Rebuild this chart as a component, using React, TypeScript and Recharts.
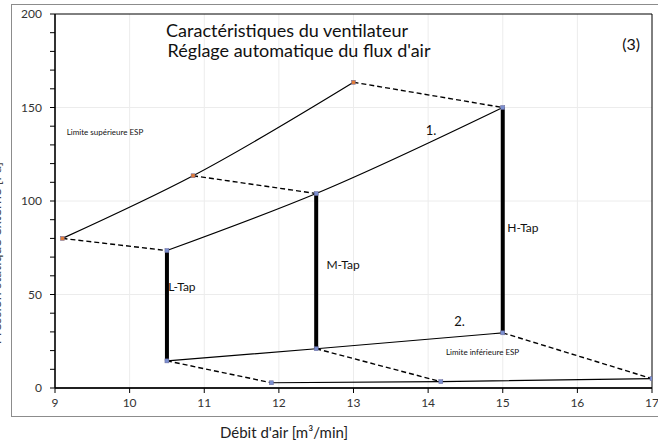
import React from 'react';
import {
  ComposedChart, Line, XAxis, YAxis, CartesianGrid, ReferenceArea, ReferenceDot,
} from 'recharts';

// ---- data ----
const xTicks = [9, 10, 11, 12, 13, 14, 15, 16, 17];
const yTicks = [0, 10, 20, 30, 40, 50, 60, 70, 80, 90, 100, 110, 120, 130, 140, 150, 160, 170, 180, 190, 200];

const upperLimit = [
  { x: 9.1, y: 80 },
  { x: 10.85, y: 113.5 },
  { x: 13, y: 163.5 },
];
const curve1 = [
  { x: 10.5, y: 73.5 },
  { x: 12.5, y: 104 },
  { x: 15, y: 150 },
];
const curve2 = [
  { x: 10.5, y: 14.5 },
  { x: 12.5, y: 21 },
  { x: 15, y: 29.5 },
];
const lowerLimit = [
  { x: 11.9, y: 2.8 },
  { x: 14.17, y: 3.4 },
  { x: 17, y: 5 },
];
const dashUpperH = [{ x: 13, y: 163.5 }, { x: 15, y: 150 }];
const dashUpperM = [{ x: 10.85, y: 113.5 }, { x: 12.5, y: 104 }];
const dashUpperL = [{ x: 9.1, y: 80 }, { x: 10.5, y: 73.5 }];
const dashLowerL = [{ x: 10.5, y: 14.5 }, { x: 11.9, y: 2.8 }];
const dashLowerM = [{ x: 12.5, y: 21 }, { x: 14.17, y: 3.4 }];
const dashLowerH = [{ x: 15, y: 29.5 }, { x: 17, y: 5 }];
const tapL = [{ x: 10.5, y: 14.5 }, { x: 10.5, y: 73.5 }];
const tapM = [{ x: 12.5, y: 21 }, { x: 12.5, y: 104 }];
const tapH = [{ x: 15, y: 29.5 }, { x: 15, y: 150 }];

const annotations = [
  { x: 9.67, y: 137, text: 'Limite supérieure ESP', size: 8 },
  { x: 14.04, y: 138, text: '1.', size: 13 },
  { x: 15.27, y: 85.6, text: 'H-Tap', size: 12 },
  { x: 12.86, y: 65.8, text: 'M-Tap', size: 12 },
  { x: 10.7, y: 54, text: 'L-Tap', size: 12 },
  { x: 14.42, y: 35.8, text: '2.', size: 13 },
  { x: 14.73, y: 19.3, text: 'Limite inférieure ESP', size: 8 },
  { x: 16.72, y: 184, text: '(3)', size: 16 },
  { x: 12.11, y: 190.9, text: 'Caractéristiques du ventilateur', size: 18 },
  { x: 12.27, y: 180.6, text: "Réglage automatique du flux d'air", size: 18 },
];

const FONT = 'Lato, "Noto Sans", sans-serif';

const makeDot = (color: string) => (props: any) => {
  const { cx, cy, index } = props;
  if (cx == null || cy == null) return <g key={index} />;
  return <rect key={index} x={cx - 2} y={cy - 2} width={4} height={4} fill={color} stroke="#6a6a9a" strokeWidth={0.5} />;
};

const orangeDot = makeDot('#e07b39');
const blueDot = makeDot('#7b8fd0');

export default function App() {
  const solid = { stroke: '#000', strokeWidth: 1.2, isAnimationActive: false, dataKey: 'y', legendType: 'none' as const };
  const dashed = { stroke: '#000', strokeWidth: 1.4, strokeDasharray: '5 3', isAnimationActive: false, dataKey: 'y', dot: false, legendType: 'none' as const };
  const tap = { stroke: '#000', strokeWidth: 4, isAnimationActive: false, dataKey: 'y', dot: false, legendType: 'none' as const };
  return (
    <div style={{ position: 'absolute', left: 0, top: 0, width: 658, height: 442, background: '#fff', overflow: 'hidden', fontFamily: FONT }}>
      <div style={{ position: 'absolute', left: 11, top: 4, width: 700, height: 413, border: '1px solid #8c8c8c', boxSizing: 'border-box' }} />
      <div style={{ position: 'absolute', left: 0, top: 0 }}>
        <ComposedChart width={658} height={442} margin={{ top: 14, right: 6, bottom: 0, left: 0 }}>
          <CartesianGrid
            stroke="#ececec"
            horizontalValues={[50, 100, 150]}
            verticalValues={[10, 11, 12, 13, 14, 15, 16]}
          />
          <XAxis
            type="number"
            dataKey="x"
            domain={[9, 17]}
            ticks={xTicks}
            allowDataOverflow
            height={54}
            tickSize={5}
            tickMargin={5}
            axisLine={{ stroke: '#000', strokeWidth: 1.5 }}
            tickLine={{ stroke: '#000' }}
            tick={{ fill: '#333', fontSize: 12, fontFamily: FONT }}
          />
          <YAxis
            type="number"
            domain={[0, 200]}
            ticks={yTicks}
            interval={0}
            width={55}
            tickSize={5}
            tickMargin={8}
            axisLine={{ stroke: '#000', strokeWidth: 1.2 }}
            tickLine={{ stroke: '#000' }}
            tickFormatter={(v: number) => (v % 50 === 0 ? String(v) : '')}
            tick={{ fill: '#333', fontSize: 12, fontFamily: FONT }}
          />
          <ReferenceArea x1={9} x2={17} y1={0} y2={200} fill="none" stroke="#000" strokeWidth={1} ifOverflow="visible" />

          <Line {...dashed} data={dashUpperH} />
          <Line {...dashed} data={dashUpperM} />
          <Line {...dashed} data={dashUpperL} />
          <Line {...dashed} data={dashLowerL} />
          <Line {...dashed} data={dashLowerM} />
          <Line {...dashed} data={dashLowerH} />

          <Line {...tap} data={tapL} />
          <Line {...tap} data={tapM} />
          <Line {...tap} data={tapH} />

          <Line {...solid} type="monotone" data={upperLimit} dot={orangeDot} />
          <Line {...solid} type="monotone" data={curve1} dot={blueDot} />
          <Line {...solid} type="monotone" data={curve2} dot={blueDot} />
          <Line {...solid} type="linear" data={lowerLimit} dot={blueDot} />

          {annotations.map((a) => (
            <ReferenceDot
              key={a.text}
              x={a.x}
              y={a.y}
              r={0}
              fill="none"
              stroke="none"
              ifOverflow="visible"
              label={{ value: a.text, position: 'center', fontSize: a.size, fill: '#111', fontFamily: FONT }}
            />
          ))}
        </ComposedChart>
      </div>
      <div style={{ position: 'absolute', left: 0, width: 568, top: 423, textAlign: 'center', fontSize: 15, color: '#222' }}>
        Débit d'air [m³/min]
      </div>
      <svg style={{ position: 'absolute', left: 0, top: 0 }} width={20} height={442}>
        <text transform="translate(1,253) rotate(-90)" textAnchor="middle" fontSize={14} fill="#444" fontFamily={FONT}>
          Pression statique externe [Pa]
        </text>
      </svg>
    </div>
  );
}
